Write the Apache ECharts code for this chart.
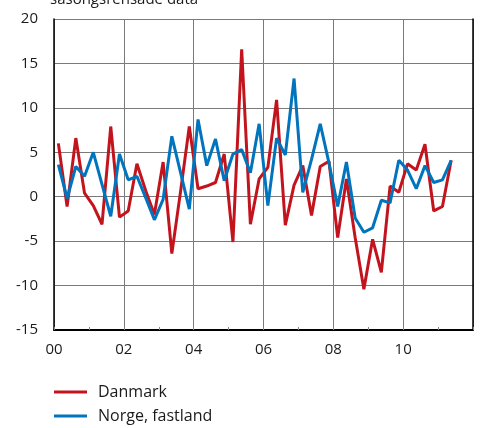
<!DOCTYPE html>
<html>
<head>
<meta charset="utf-8">
<script src="https://cdn.jsdelivr.net/npm/echarts@6/dist/echarts.min.js"></script>
<style>
  html, body { margin: 0; padding: 0; background: #fff; }
  #chart { width: 481px; height: 428px; }
</style>
</head>
<body>
<div id="chart"></div>
<script>
// Quarterly growth, seasonally adjusted, 2000 Q1 - 2011 Q2
const quarters = [];
for (let y = 2000; y <= 2011; y++) {
  for (let q = 1; q <= 4; q++) quarters.push(y + ' K' + q);
}
const danmark = [6.0, -1.1, 6.6, 0.4, -1.0, -3.1, 7.9, -2.3, -1.6, 3.7, 0.7, -2.0,
  3.9, -6.4, 0.6, 7.9, 0.9, 1.2, 1.6, 4.8, -5.1, 16.6, -3.1, 2.0,
  3.3, 10.9, -3.2, 1.3, 3.5, -2.1, 3.4, 4.0, -4.6, 2.0, -4.6, -10.4,
  -4.8, -8.5, 1.2, 0.5, 3.7, 3.0, 5.9, -1.6, -1.1, 4.1];
const norge = [3.6, -0.2, 3.4, 2.3, 5.0, 1.4, -2.2, 4.8, 1.9, 2.3, -0.1, -2.6,
  -0.3, 6.8, 2.7, -1.4, 8.7, 3.5, 6.5, 1.8, 4.8, 5.3, 2.7, 8.2,
  -1.0, 6.6, 4.7, 13.3, 0.5, 4.2, 8.2, 3.8, -1.1, 3.9, -2.4, -4.0,
  -3.5, -0.4, -0.7, 4.1, 3.0, 0.9, 3.5, 1.6, 1.9, 4.1];
const yearTicks = ['00', '02', '04', '06', '08', '10'];
const seriesNames = ['Danmark', 'Norge, fastland'];
const subtitle = 'säsongsrensade data';

// x position of each quarter: mid-quarter, in years since 2000
function quarterPos(label) {
  const yr = parseInt(label.slice(0, 4), 10) - 2000;
  const q = parseInt(label.slice(-1), 10);
  return yr + (q - 0.5) / 4;
}
function pairs(values) {
  return values.map((v, i) => [quarterPos(quarters[i]), v]);
}

const FONT = '"Open Sans", "Noto Sans", sans-serif';
const LINE_ICON = 'path://M0,0L33,0L33,3L0,3Z';

function legendItem(name, top) {
  return {
    left: 54,
    top: top,
    padding: 0,
    itemWidth: 33,
    itemHeight: 3,
    icon: LINE_ICON,
    selectedMode: false,
    data: [name],
    textStyle: { fontFamily: FONT, fontSize: 16, color: '#1a1a1a', lineHeight: 16, padding: [0, 0, 0, 6] }
  };
}

const chart = echarts.init(document.getElementById('chart'), null, { renderer: 'canvas' });

chart.setOption({
  animation: false,
  backgroundColor: '#fff',
  title: {
    text: subtitle,
    left: 50,
    top: -10,
    padding: 0,
    textStyle: { fontFamily: FONT, fontSize: 15, fontWeight: 'normal', color: '#1a1a1a', lineHeight: 20 }
  },
  grid: { left: 54, right: 8, top: 19, bottom: 98, containLabel: false },
  legend: [legendItem(seriesNames[0], 384), legendItem(seriesNames[1], 408)],
  xAxis: {
    type: 'value',
    min: 0,
    max: 12,
    interval: 2,
    axisLine: { show: true, onZero: false, lineStyle: { color: '#000', width: 2 } },
    axisTick: { show: true, inside: true, length: 3, lineStyle: { color: '#888' } },
    minorTick: { show: true, splitNumber: 2, length: 3, lineStyle: { color: '#888' } },
    splitLine: { show: true, lineStyle: { color: '#7a7a7a', width: 1 } },
    axisLabel: {
      margin: 12,
      fontFamily: FONT,
      fontSize: 15,
      color: '#1a1a1a',
      formatter: v => yearTicks[v / 2] || ''
    }
  },
  yAxis: [{
    type: 'value',
    min: -15,
    max: 20,
    interval: 5,
    axisLine: { show: true, lineStyle: { color: '#000', width: 1.5 } },
    axisTick: { show: false },
    splitLine: { show: true, lineStyle: { color: '#7a7a7a', width: 1 } },
    axisLabel: { margin: 16, fontFamily: FONT, fontSize: 15, color: '#1a1a1a' }
  }, {
    type: 'value',
    position: 'right',
    min: -15,
    max: 20,
    interval: 5,
    axisLine: { show: true, lineStyle: { color: '#000', width: 1.5 } },
    axisTick: { show: false },
    axisLabel: { show: false },
    splitLine: { show: false }
  }],
  series: [{
    name: seriesNames[0],
    type: 'line',
    data: pairs(danmark),
    symbol: 'none',
    color: '#C3141E',
    lineStyle: { width: 3, color: '#C3141E' },
    z: 3
  }, {
    name: seriesNames[1],
    type: 'line',
    data: pairs(norge),
    symbol: 'none',
    color: '#0074BD',
    lineStyle: { width: 3, color: '#0074BD' },
    z: 4
  }]
});
</script>
</body>
</html>
